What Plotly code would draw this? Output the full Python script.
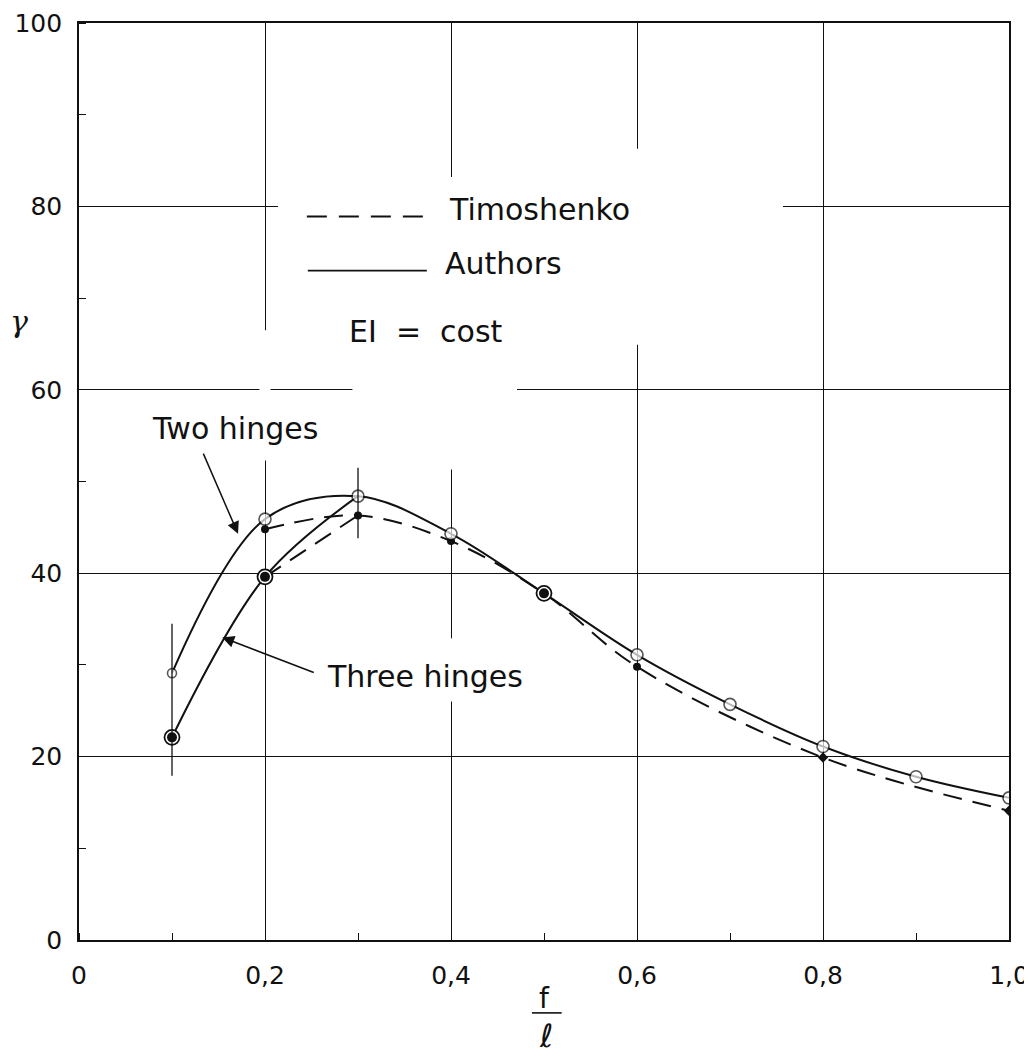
import plotly.graph_objects as go

# ---------------- data ----------------
x_ratio = [0.1, 0.2, 0.3, 0.4, 0.5, 0.6, 0.7, 0.8, 0.9, 1.0]
authors_two = [29.1, 45.9, 48.4, 44.3, 37.8, 31.1, 25.7, 21.1, 17.8, 15.5]

authors_three_x = [0.1, 0.2, 0.3]
authors_three = [22.1, 39.6, 48.4]

timo_two_x = [0.2, 0.3, 0.4, 0.5, 0.6, 0.8, 1.0]
timo_two = [44.8, 46.3, 43.5, 37.8, 29.8, 19.9, 14.1]

timo_three_x = [0.2, 0.3]
timo_three = [39.6, 46.3]

open_x = [0.1, 0.2, 0.3, 0.4, 0.6, 0.7, 0.8, 0.9, 1.0]
open_y = [29.1, 45.9, 48.4, 44.3, 31.1, 25.7, 21.1, 17.8, 15.5]

double_x = [0.1, 0.2, 0.5]
double_y = [22.1, 39.6, 37.8]

filled_x = [0.2, 0.3, 0.4, 0.6, 0.8, 1.0]
filled_y = [44.8, 46.3, 43.5, 29.8, 19.9, 14.1]

stem_x = [0.1, 0.3]
stem_lo = [17.9, 43.8]
stem_hi = [34.5, 51.5]

x_ticks = [0, 0.2, 0.4, 0.6, 0.8, 1.0]
x_ticklabels = ["0", "0,2", "0,4", "0,6", "0,8", "1,0"]
y_ticks = [0, 20, 40, 60, 80, 100]
y_ticklabels = ["0", "20", "40", "60", "80", "100"]

# ---------------- figure ----------------
FONT = "DejaVu Sans"
INK = "#111111"
fig = go.Figure()

# curves
fig.add_trace(go.Scatter(x=x_ratio, y=authors_two, mode="lines",
                         line=dict(color=INK, width=2, shape="spline"), hoverinfo="skip"))
fig.add_trace(go.Scatter(x=authors_three_x, y=authors_three, mode="lines",
                         line=dict(color=INK, width=2, shape="spline"), hoverinfo="skip"))
fig.add_trace(go.Scatter(x=timo_two_x, y=timo_two, mode="lines",
                         line=dict(color=INK, width=2, shape="spline", dash="19px,11px"),
                         hoverinfo="skip"))
fig.add_trace(go.Scatter(x=timo_three_x, y=timo_three, mode="lines",
                         line=dict(color=INK, width=2, shape="spline", dash="19px,11px"),
                         hoverinfo="skip"))

# markers
fig.add_trace(go.Scatter(x=filled_x, y=filled_y, mode="markers",
                         marker=dict(symbol=["circle", "circle", "circle", "circle", "diamond", "diamond"],
                                     size=8, color=INK, line=dict(width=0)),
                         hoverinfo="skip"))
fig.add_trace(go.Scatter(x=open_x, y=open_y, mode="markers",
                         marker=dict(symbol="circle", size=[9, 12, 12, 12, 12, 12, 12, 12, 12],
                                     color="white", line=dict(color=INK, width=1.6)),
                         hoverinfo="skip"))
fig.add_trace(go.Scatter(x=double_x, y=double_y, mode="markers",
                         marker=dict(symbol="circle", size=15, color="white",
                                     line=dict(color=INK, width=1.8)),
                         hoverinfo="skip"))
fig.add_trace(go.Scatter(x=double_x, y=double_y, mode="markers",
                         marker=dict(symbol="circle", size=10, color=INK, line=dict(width=0)),
                         hoverinfo="skip"))

# vertical stems (drawn over the markers, as in the original)
sx, sy = [], []
for xv, lo, hi in zip(stem_x, stem_lo, stem_hi):
    sx += [xv, xv, None]
    sy += [lo, hi, None]
fig.add_trace(go.Scatter(x=sx, y=sy, mode="lines", line=dict(color=INK, width=1.3),
                         hoverinfo="skip"))

# white masks that interrupt the grid behind the labels (as in the original)
masks = [
    (0.214, 0.757, 65.5, 83.0),
    (0.594, 0.606, 64.9, 86.3),
    (0.394, 0.406, 51.3, 83.2),
    (0.294, 0.471, 58.0, 62.0),
    (0.194, 0.206, 52.3, 66.5),
    (0.394, 0.406, 26.0, 32.9),
]
for x0, x1, y0, y1 in masks:
    fig.add_shape(type="rect", xref="x", yref="y", x0=x0, x1=x1, y0=y0, y1=y1,
                  fillcolor="white", line=dict(width=0), layer="between")

# legend line samples
fig.add_shape(type="line", xref="x", yref="y", x0=0.245, x1=0.374, y0=78.9, y1=78.9,
              line=dict(color=INK, width=2, dash="20px,12px"))
fig.add_shape(type="line", xref="x", yref="y", x0=0.246, x1=0.374, y0=73.0, y1=73.0,
              line=dict(color=INK, width=1.6))

txt = dict(family=FONT, size=30, color=INK)
for xx, yy, tt in [(0.396, 79.7, "Timoshenko"), (0.391, 73.8, "Authors"),
                   (0.288, 66.4, "EI  =  cost"), (0.076, 55.8, "Two hinges"),
                   (0.265, 28.75, "Three hinges")]:
    fig.add_annotation(x=xx, y=yy, text=tt, showarrow=False, xanchor="left",
                       yanchor="middle", font=txt)

# arrows
fig.add_annotation(x=0.171, y=44.3, ax=0.133, ay=53.2, axref="x", ayref="y",
                   xref="x", yref="y", text="", showarrow=True, arrowhead=2,
                   arrowsize=1.6, arrowwidth=1.5, arrowcolor=INK)
fig.add_annotation(x=0.154, y=33.0, ax=0.254, ay=29.1, axref="x", ayref="y",
                   xref="x", yref="y", text="", showarrow=True, arrowhead=2,
                   arrowsize=1.6, arrowwidth=1.5, arrowcolor=INK)

# axis titles
fig.add_annotation(xref="paper", yref="paper", x=-0.064, y=0.675, text="γ", showarrow=False,
                   xanchor="center", yanchor="middle",
                   font=dict(family="DejaVu Serif", size=30, color=INK, style="italic"))
fig.add_annotation(xref="paper", yref="paper", x=0.5005, y=-0.064, text="f", showarrow=False,
                   xanchor="center", yanchor="middle",
                   font=dict(family=FONT, size=28, color=INK))
fig.add_shape(type="line", xref="paper", yref="paper", x0=0.487, x1=0.519,
              y0=-0.0795, y1=-0.0795, line=dict(color=INK, width=1.6))
fig.add_annotation(xref="paper", yref="paper", x=0.502, y=-0.105, text="ℓ", showarrow=False,
                   xanchor="center", yanchor="middle",
                   font=dict(family=FONT, size=32, color=INK))

axis_common = dict(
    showline=True, mirror=True, linecolor=INK, linewidth=1.6,
    showgrid=True, gridcolor=INK, gridwidth=1.3,
    zeroline=False, ticks="", automargin=False, ticklabeloverflow="allow",
    tickfont=dict(family=FONT, size=25, color=INK),
)
fig.update_xaxes(range=[0, 1.0], tickmode="array", tickvals=x_ticks, ticktext=x_ticklabels,
                 ticklabelstandoff=12,
                 minor=dict(dtick=0.1, ticks="inside", ticklen=7, tickcolor=INK,
                            tickwidth=1.3, showgrid=False),
                 **axis_common)
fig.update_yaxes(range=[0, 100], tickmode="array", tickvals=y_ticks, ticktext=y_ticklabels,
                 ticklabelstandoff=10,
                 minor=dict(dtick=10, ticks="inside", ticklen=7, tickcolor=INK,
                            tickwidth=1.3, showgrid=False),
                 **axis_common)

fig.update_layout(
    width=1032, height=1054,
    margin=dict(l=71, r=31, t=15, b=122),
    plot_bgcolor="white", paper_bgcolor="white",
    showlegend=False,
)

fig.write_html("out.html")
